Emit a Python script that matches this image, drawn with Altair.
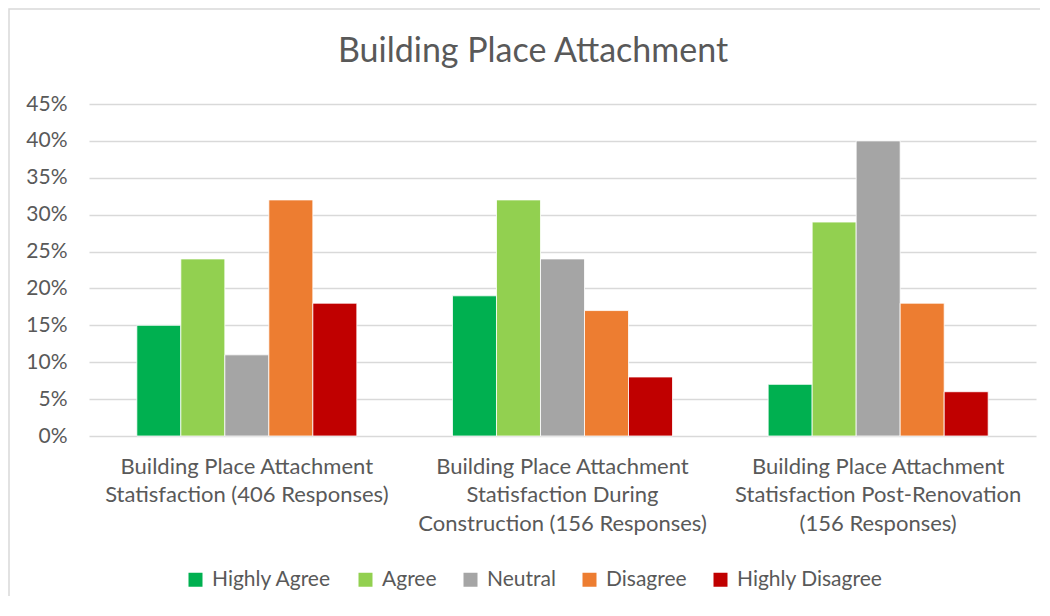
import altair as alt
import pandas as pd

title_text = "Building Place Attachment"
categories = [
    "Building Place Attachment|Statisfaction (406 Responses)",
    "Building Place Attachment|Statisfaction During|Construction (156 Responses)",
    "Building Place Attachment|Statisfaction Post-Renovation|(156 Responses)",
]
series = ["Highly Agree", "Agree", "Neutral", "Disagree", "Highly Disagree"]
colors = ["#00B050", "#92D050", "#A5A5A5", "#ED7D31", "#C00000"]
highly_agree = [0.15, 0.19, 0.07]
agree = [0.24, 0.32, 0.29]
neutral = [0.11, 0.24, 0.40]
disagree = [0.32, 0.17, 0.18]
highly_disagree = [0.18, 0.08, 0.06]

rows = []
for s, vals in zip(series, [highly_agree, agree, neutral, disagree, highly_disagree]):
    for c, v in zip(categories, vals):
        rows.append({"category": c, "series": s, "value": v})
df = pd.DataFrame(rows)
title_df = pd.DataFrame({"t": [title_text]})

FONT = "Lato"
GRAY = "#595959"

bars = alt.Chart(df).mark_bar(stroke="white", strokeWidth=0.8).encode(
    x=alt.X("category:N", sort=categories, title=None,
            scale=alt.Scale(paddingInner=0.303, paddingOuter=0.1515),
            axis=alt.Axis(labelAngle=0, labelExpr="split(datum.label, '|')",
                          labelFontSize=22, labelColor=GRAY, labelFont=FONT,
                          labelLineHeight=28.5, labelPadding=20, ticks=False,
                          domain=False, labelLimit=400)),
    xOffset=alt.XOffset("series:N", sort=series),
    y=alt.Y("value:Q", title=None,
            scale=alt.Scale(domain=[0, 0.45]),
            axis=alt.Axis(values=[0, 0.05, 0.1, 0.15, 0.2, 0.25, 0.3, 0.35, 0.4, 0.45],
                          format=".0%", labelFontSize=21, labelColor=GRAY,
                          labelFont=FONT, labelPadding=22, ticks=False,
                          domain=False, gridColor="#D9D9D9", gridWidth=1.5)),
    color=alt.Color("series:N", sort=series,
                    scale=alt.Scale(domain=series, range=colors),
                    legend=alt.Legend(title=None, orient="none", direction="horizontal",
                                      legendX=96, legendY=465, symbolType="square",
                                      symbolSize=196, symbolStrokeWidth=0,
                                      labelFontSize=21, labelColor=GRAY, labelFont=FONT,
                                      columnPadding=23, labelOffset=6)),
)

frame = alt.Chart(title_df).mark_rect(fillOpacity=0, stroke="#D9D9D9", strokeWidth=1.5).encode(
    x=alt.value(-80), x2=alt.value(963), y=alt.value(-95), y2=alt.value(516)
)

title = alt.Chart(title_df).mark_text(fontSize=34, font=FONT, color=GRAY,
                                      align="center", baseline="alphabetic").encode(
    text="t:N", x=alt.value(444), y=alt.value(-42)
)

chart = alt.layer(frame, bars, title).properties(
    width=947, height=332,
    autosize=alt.AutoSizeParams(type="none"),
    padding={"left": 81, "top": 96, "right": 4, "bottom": 160},
).configure(background="white").configure_view(stroke=None)

chart.save("out.html", embed_options={"renderer": "svg", "actions": False})
